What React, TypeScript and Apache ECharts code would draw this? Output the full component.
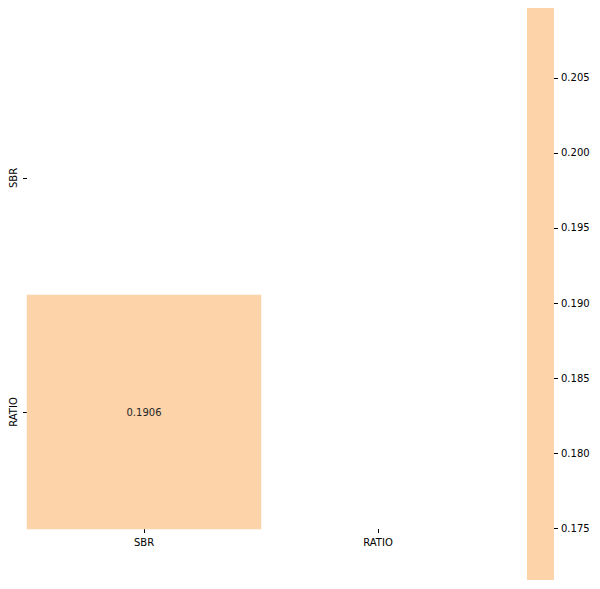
import React, { useEffect, useRef } from "react";
import * as echarts from "echarts";

const categories = ["SBR", "RATIO"];
const cells: [number, number, number][] = [[0, 1, 0.1906]];
const colorbarTicks = [0.175, 0.18, 0.185, 0.19, 0.195, 0.2, 0.205];
const colorMin = 0.17154;
const colorMax = 0.20966;
const cellColor = "#FDD3A9";

export default function App() {
  const ref = useRef<HTMLDivElement>(null);
  useEffect(() => {
    if (!ref.current) return;
    const chart = echarts.init(ref.current, undefined, { renderer: "svg" });
    const font = "DejaVu Sans";
    chart.setOption({
      animation: false,
      backgroundColor: "#ffffff",
      textStyle: { fontFamily: font },
      grid: [
        { left: 27, top: 61, width: 468, height: 468, containLabel: false },
        {
          left: 527, top: 8, width: 27, height: 572, show: true,
          backgroundColor: cellColor, borderWidth: 0,
        },
      ],
      xAxis: [
        {
          type: "category", gridIndex: 0, data: categories,
          axisLine: { show: false },
          axisTick: { show: true, alignWithLabel: true, length: 4, lineStyle: { color: "#000" } },
          axisLabel: { color: "#000", fontSize: 10, fontFamily: font, margin: 8 },
          splitLine: { show: false },
        },
        { type: "value", gridIndex: 1, show: false, min: 0, max: 1 },
      ],
      yAxis: [
        {
          type: "category", gridIndex: 0, data: categories, inverse: true,
          axisLine: { show: false },
          axisTick: { show: true, alignWithLabel: true, length: 4, lineStyle: { color: "#000" } },
          axisLabel: { color: "#000", fontSize: 10, fontFamily: font, rotate: 90, margin: 9 },
          splitLine: { show: false },
        },
        {
          type: "value", gridIndex: 1, position: "right", min: colorMin, max: colorMax,
          axisLine: { show: false, onZero: false },
          axisTick: { show: true, length: 4, customValues: colorbarTicks, lineStyle: { color: "#000" } },
          axisLabel: {
            show: true, customValues: colorbarTicks, color: "#000", fontSize: 10, fontFamily: font, margin: 7,
            formatter: (v: number) => v.toFixed(3),
          },
          splitLine: { show: false },
        },
      ],
      visualMap: {
        show: false, min: colorMin, max: colorMax, dimension: 2, seriesIndex: 0,
        inRange: { color: [cellColor, cellColor] },
      },
      series: [
        {
          type: "heatmap", xAxisIndex: 0, yAxisIndex: 0, data: cells,
          label: {
            show: true, color: "#262626", fontSize: 10, fontFamily: font,
            formatter: (p: any) => p.value[2].toFixed(4),
          },
          itemStyle: { borderWidth: 0 },
          emphasis: { disabled: true },
        },
      ],
    });
    return () => chart.dispose();
  }, []);
  return <div ref={ref} style={{ width: 600, height: 589, position: "absolute", left: 0, top: 0 }} />;
}
